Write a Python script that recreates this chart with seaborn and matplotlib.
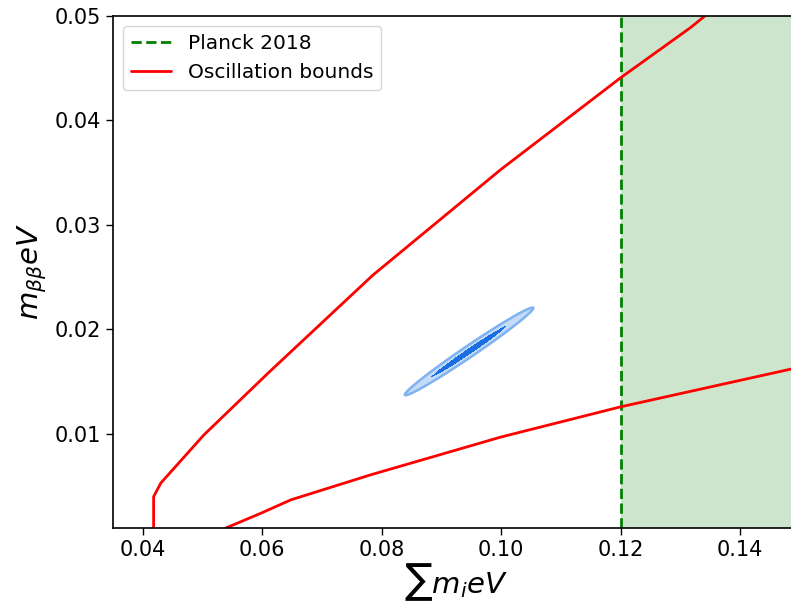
import numpy as np
import pandas as pd
import matplotlib
matplotlib.use("Agg")
import matplotlib.pyplot as plt
import seaborn as sns

# oscillation bounds (sum m_i [eV], m_bb [eV])
upper_sum = [0.0418, 0.0418, 0.0430, 0.0502, 0.0611, 0.0785, 0.0999, 0.1200, 0.1317, 0.1345]
upper_mbb = [0.0010, 0.0040, 0.0053, 0.0099, 0.0159, 0.0252, 0.0353, 0.0441, 0.0489, 0.0502]
lower_sum = [0.0539, 0.0597, 0.0648, 0.0782, 0.0999, 0.1200, 0.1500]
lower_mbb = [0.0010, 0.0024, 0.0037, 0.0061, 0.0097, 0.0126, 0.0164]

planck_limit = 0.12

# forecast ellipse: centre, widths and correlation
centre = [0.0946, 0.0179]
sigma = [0.00433, 0.00169]
rho = 0.988
levels = [2.3, 6.17]  # delta chi^2 for inner and outer regions

black = {'axes.edgecolor': 'black', 'text.color': 'black', 'axes.labelcolor': 'black',
         'xtick.color': 'black', 'ytick.color': 'black'}
sns.set_style("ticks", rc=black)
plt.rcParams['font.family'] = ['DejaVu Sans']

fig = plt.figure(figsize=(7.91, 6.05), dpi=100)
ax = fig.add_axes([113 / 791, 77 / 605, 687 / 791, 512 / 605])

ax.axvspan(planck_limit, 0.15, color='green', alpha=0.2, lw=0)
ax.axvline(planck_limit, color='green', ls='--', lw=2, label='Planck 2018')

up = pd.DataFrame({'x': upper_sum, 'y': upper_mbb})
lo = pd.DataFrame({'x': lower_sum, 'y': lower_mbb})
sns.lineplot(data=up, x='x', y='y', sort=False, estimator=None, color='red', lw=2,
             label='Oscillation bounds', ax=ax)
sns.lineplot(data=lo, x='x', y='y', sort=False, estimator=None, color='red', lw=2, ax=ax)

# chi^2 surface of the 2d gaussian
gx, gy = np.meshgrid(np.linspace(0.08, 0.11, 700), np.linspace(0.012, 0.024, 700))
dx = (gx - centre[0]) / sigma[0]
dy = (gy - centre[1]) / sigma[1]
chi2 = (dx ** 2 - 2 * rho * dx * dy + dy ** 2) / (1 - rho ** 2)
ax.contourf(gx, gy, chi2, levels=[0, levels[0], levels[1]],
            colors=['#1a6fe0', '#c4dcf8'], zorder=3)
ax.contour(gx, gy, chi2, levels=[levels[1]], colors=['#7fb2f0'], linewidths=1.8, zorder=3)

ax.set_xlim(0.035, 0.15)
ax.set_ylim(0.001, 0.05)
ax.set_xticks([0.04, 0.06, 0.08, 0.10, 0.12, 0.14])
ax.set_yticks([0.01, 0.02, 0.03, 0.04, 0.05])
ax.tick_params(labelsize=15, length=5, width=1)
ax.set_xlabel(r'$\sum m_i eV$', fontsize=21, labelpad=1)
ax.set_ylabel(r'$m_{\beta\beta} eV$', fontsize=21)
for s in ax.spines.values():
    s.set_linewidth(1.2)

ax.legend(loc='upper left', fontsize=14.5)

fig.savefig("out.png", dpi=100)
